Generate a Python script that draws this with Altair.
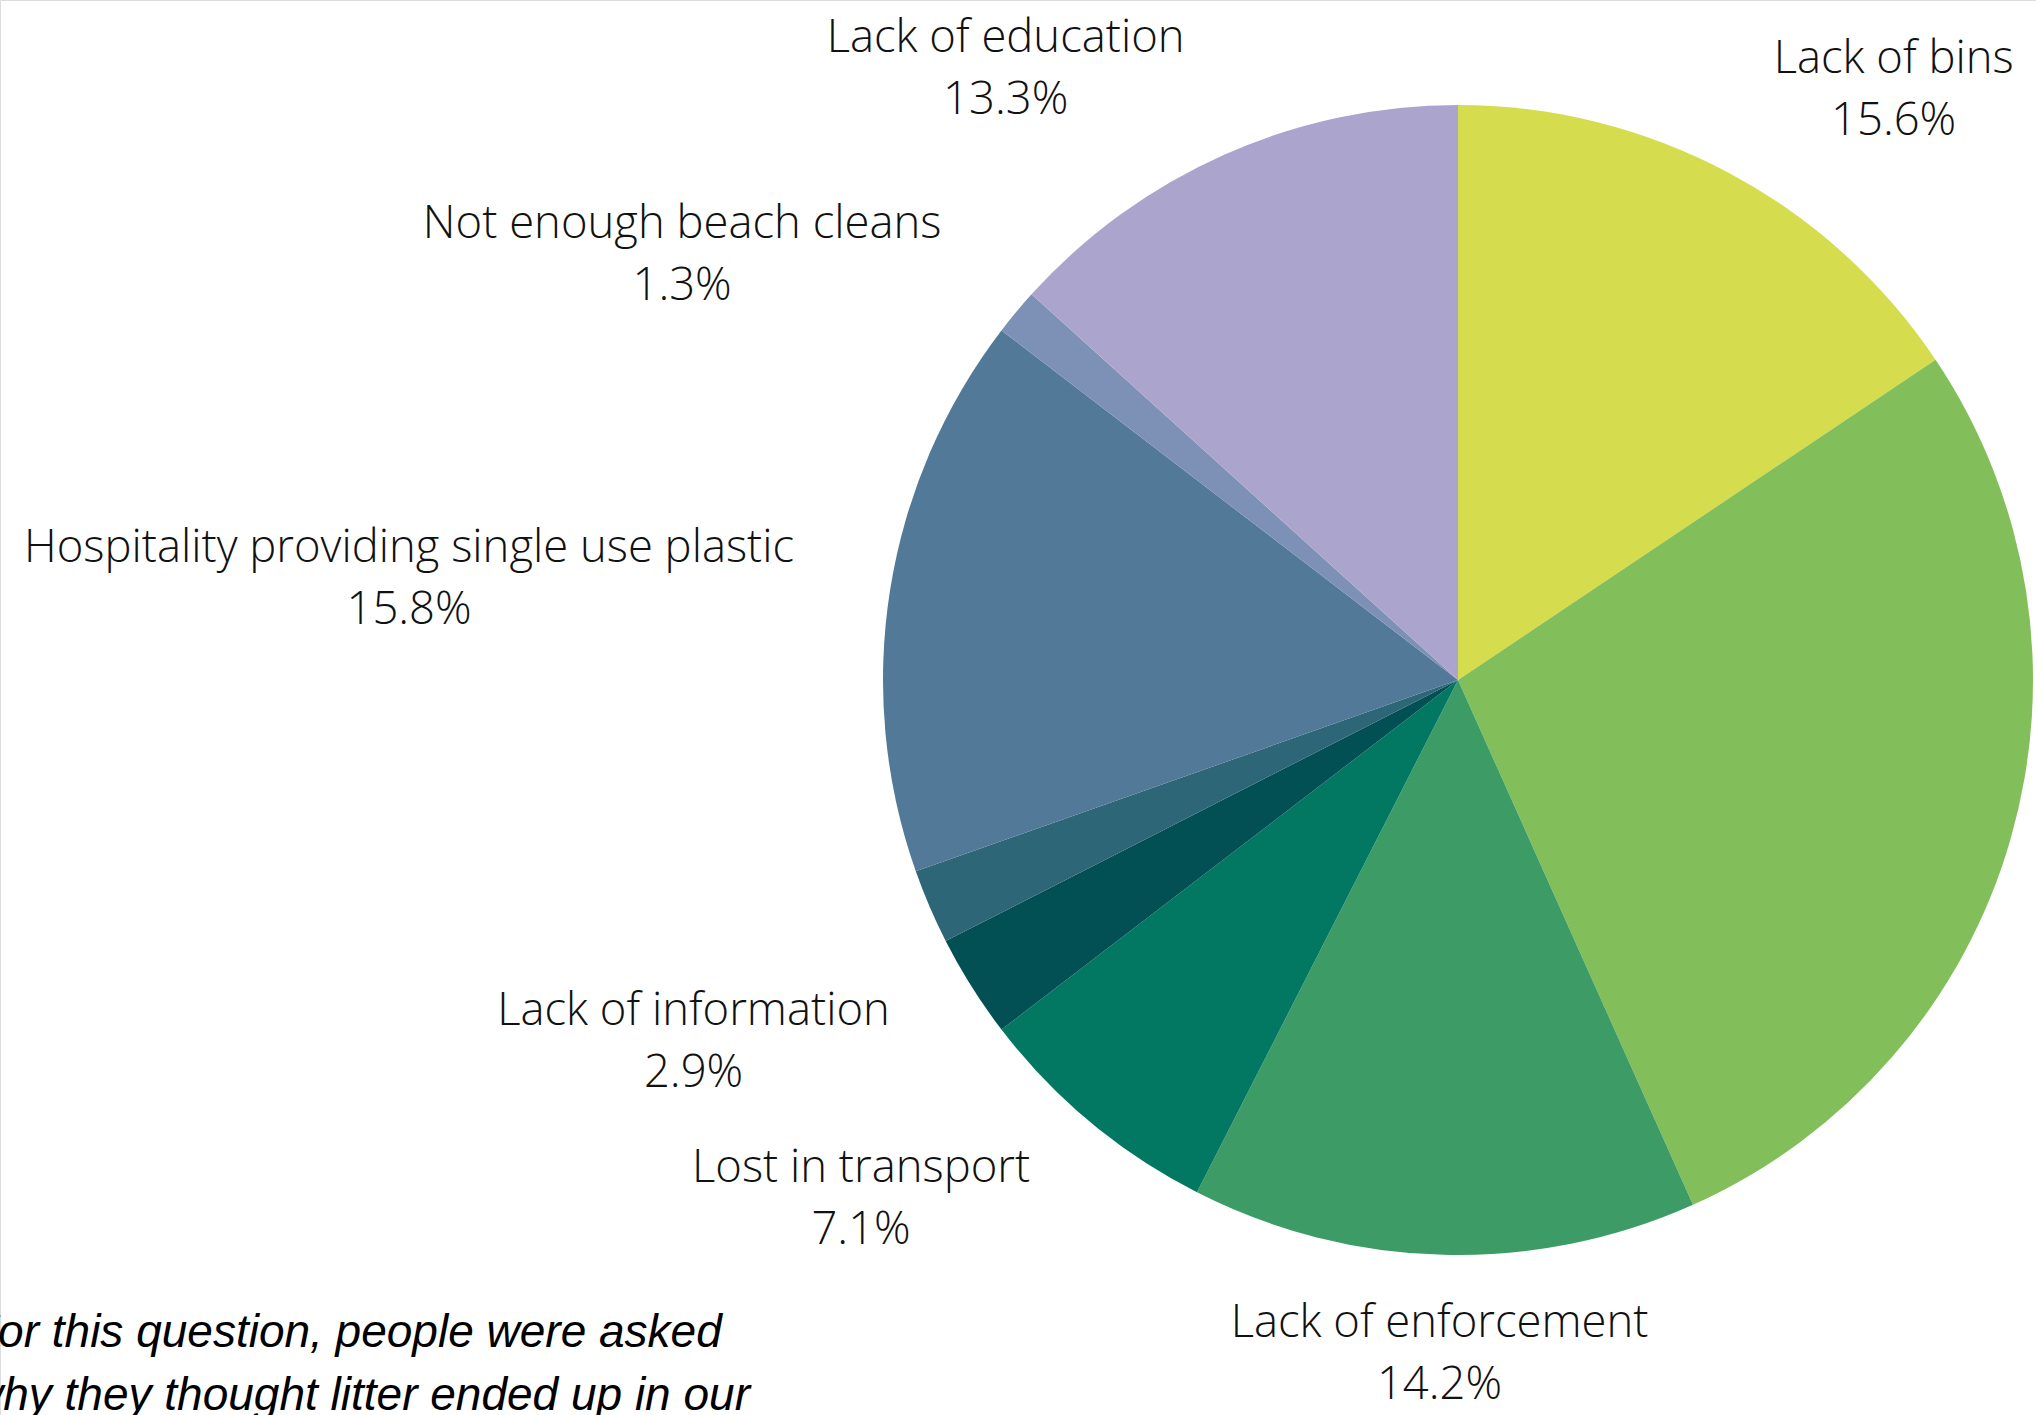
import altair as alt
import pandas as pd

# ---------------- data ----------------
categories = [
    "Lack of bins",
    "Unlabelled slice A",
    "Lack of enforcement",
    "Lost in transport",
    "Lack of information",
    "Unlabelled slice B",
    "Hospitality providing single use plastic",
    "Not enough beach cleans",
    "Lack of education",
]
shares = [15.6, 27.7, 14.2, 7.1, 2.9, 2.1, 15.8, 1.3, 13.3]
labelled = [True, False, True, True, True, False, True, True, True]
colors = [
    "#d5dd4f", "#82be5a", "#3d9c66", "#027762", "#024f54",
    "#2c6677", "#527998", "#7c91b5", "#aba5cd",
]
note_lines = [
    "For this question, people were asked",
    "why they thought litter ended up in our",
]

# ---------------- layout ----------------
W, H = 2036, 1415
CX, CY, R = 1458, 680, 575
FONT = "Open Sans"
FS = 45.4
LINE = 62
# label nudges (pixels) from the slice's mid-angle point on the pie edge
nudges = {
    "Lack of bins": (165, -100),
    "Lack of enforcement": (-4, 82),
    "Lost in transport": (-229, 60),
    "Lack of information": (-278, 38),
    "Hospitality providing single use plastic": (-481, -28),
    "Not enough beach cleans": (-334, -74),
    "Lack of education": (-219, -102),
}

df = pd.DataFrame({"category": categories, "share": shares, "labelled": labelled})
df["idx"] = range(len(df))
df["mid"] = df["share"].cumsum() - df["share"] / 2
df["pct"] = [f"{v:.1f}%" for v in shares]
total = float(sum(shares))

theta_scale = alt.Scale(domain=[0, total])

pie = alt.Chart(df).mark_arc(radius=R).encode(
    theta=alt.Theta("share:Q", stack=True, scale=theta_scale),
    color=alt.Color("category:N", scale=alt.Scale(domain=categories, range=colors), legend=None),
    order=alt.Order("idx:Q"),
    x=alt.value(CX),
    y=alt.value(CY),
)

layers = [pie]
for cat, ok in zip(categories, labelled):
    if not ok:
        continue
    dx, dy = nudges[cat]
    for field, off in (("category", 0), ("pct", LINE)):
        layers.append(
            alt.Chart(df)
            .transform_filter(alt.datum.category == cat)
            .mark_text(
                radius=R, dx=dx, dy=dy + off, font=FONT, fontWeight=300, fontSize=FS,
                align="center", baseline="alphabetic", color="#111111",
            )
            .encode(
                theta=alt.Theta("mid:Q", scale=theta_scale),
                text=alt.Text(f"{field}:N"),
                x=alt.value(CX),
                y=alt.value(CY),
            )
        )

note_df = pd.DataFrame({"line": note_lines, "n": [0, 1]})
for i in range(len(note_lines)):
    layers.append(
        alt.Chart(note_df)
        .transform_filter(alt.datum.n == i)
        .mark_text(
            font="Liberation Sans", fontStyle="italic", fontSize=46,
            align="left", baseline="alphabetic", color="#000000",
        )
        .encode(text="line:N", x=alt.value(-30), y=alt.value(1347 + 63 * i))
    )

chart = (
    alt.layer(*layers)
    .properties(width=W, height=H, autosize=alt.AutoSizeParams(type="none"), padding=0)
    .configure_view(stroke="transparent", strokeWidth=0)
    .configure(background="white")
)

chart.save("out.html", embed_options={"renderer": "svg", "actions": False})
